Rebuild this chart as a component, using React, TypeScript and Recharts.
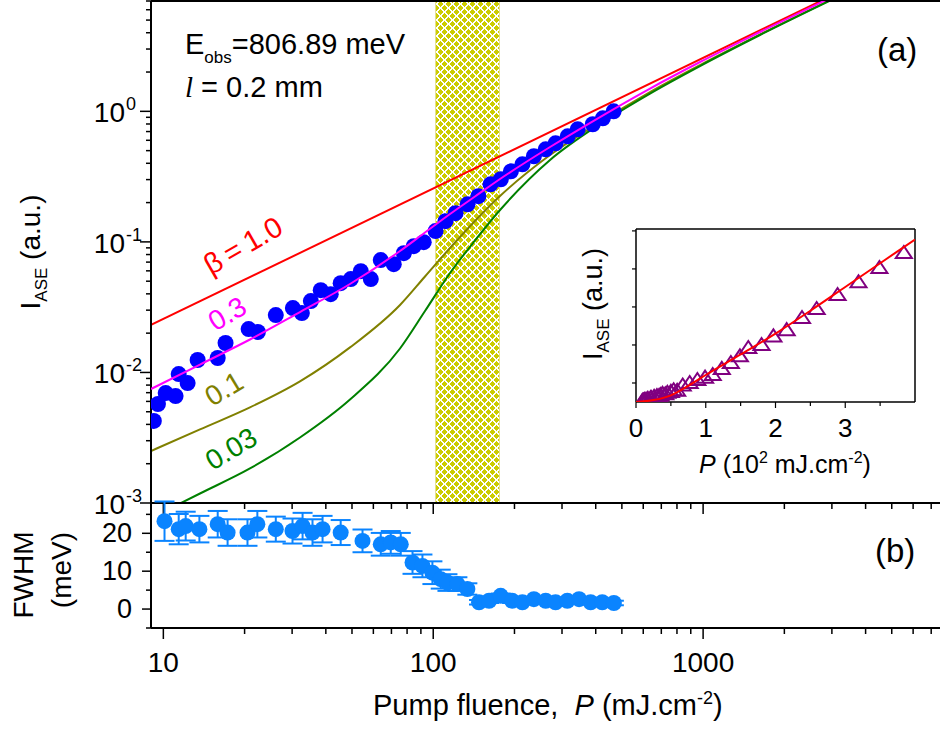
import React from "react";
import {
  ComposedChart,
  Line,
  Scatter,
  XAxis,
  YAxis,
  ReferenceArea,
  ErrorBar,
} from "recharts";

const FONT = "'Liberation Sans', Arial, Helvetica, sans-serif";

// (a) measured ASE intensity vs pump fluence
const aseFluence = [
  9.22, 9.55, 10.2, 11.1, 11.4, 12.3, 13.4, 15.9, 17.0, 20.7, 22.4, 26.1, 30.2,
  32.6, 35.2, 38.3, 41.7, 45.4, 49.5, 53.9, 58.7, 63.9, 71.4, 77.8, 84.7, 92.2,
  102, 111, 121, 134, 147, 163, 178, 194, 214, 236, 261, 284, 315, 343, 390,
  425, 466,
];
const aseIntensity = [
  0.00425, 0.00573, 0.00695, 0.00659, 0.00972, 0.00829, 0.01245, 0.0129,
  0.0168, 0.0215, 0.0204, 0.0275, 0.0311, 0.0285, 0.0352, 0.0427, 0.0398,
  0.0483, 0.0519, 0.0597, 0.0519, 0.0725, 0.0675, 0.082, 0.0927, 0.0995, 0.121,
  0.144, 0.166, 0.194, 0.224, 0.276, 0.302, 0.347, 0.393, 0.453, 0.512, 0.569,
  0.644, 0.728, 0.796, 0.884, 1.0,
];

// model curves for different beta
const curveFluence = [
  9.0, 13.67, 20.94, 32.08, 49.16, 75.32, 93.22, 115.4, 142.8, 176.8, 270.9,
  415.0, 635.7, 973.8, 1624, 3502,
];
const beta100P = [9, 3502];
const beta100I = [0.0231, 8.99];
const beta030I = [
  0.00747, 0.0115, 0.01788, 0.02903, 0.04757, 0.08514, 0.118, 0.1635, 0.2227,
  0.3031, 0.533, 0.9045, 1.495, 2.387, 4.052, 8.754,
];
const beta010I = [
  0.002502, 0.003663, 0.005398, 0.00854, 0.01555, 0.03285, 0.05429, 0.08978,
  0.1445, 0.2246, 0.4629, 0.8282, 1.406, 2.263, 3.877, 8.422,
];
const beta003I = [
  0.000768, 0.001182, 0.001838, 0.003175, 0.006205, 0.01526, 0.02955, 0.05775,
  0.1025, 0.1754, 0.4238, 0.7995, 1.369, 2.224, 3.843, 8.348,
];

// hatched threshold region (fluence)
const thresholdBand = [102, 176];

// (b) FWHM vs pump fluence
const fwhmFluence = [
  10.1, 11.4, 12.1, 13.6, 15.9, 17.3, 20.5, 22.3, 26.1, 30.1, 32.8, 35.7, 38.9,
  45.4, 54.7, 63.9, 69.6, 75.8, 83.8, 91.2, 99.3, 106.6, 112.9, 122.9, 133.8,
  147.8, 161, 177.8, 196, 214, 236, 261, 284, 314, 347, 383, 423, 467,
];
const fwhmValue = [
  23.2, 21.1, 21.9, 21.1, 22.4, 20.2, 20.2, 22.4, 21.1, 20.6, 21.9, 20.2, 21.1,
  20.2, 18.0, 17.1, 17.6, 17.1, 12.3, 11.4, 9.6, 7.9, 7.0, 6.6, 5.3, 1.8, 2.2,
  3.5, 2.2, 1.8, 2.6, 2.2, 1.8, 2.2, 2.6, 1.8, 1.8, 1.6,
];
const fwhmError = [
  5.2, 4.0, 3.8, 3.5, 3.5, 3.5, 3.5, 3.5, 3.3, 3.3, 3.5, 3.5, 3.5, 3.3, 3.0,
  3.0, 3.0, 3.0, 3.0, 3.0, 3.0, 2.5, 2.2, 1.8, 1.5, 0.6, 0.6, 0.6, 0.6, 0.6,
  0.6, 0.6, 0.6, 0.6, 0.6, 0.6, 0.6, 0.6,
];

// inset: linear plot, P in 10^2 mJ/cm2
const insetP = [
  0.09, 0.1, 0.11, 0.12, 0.13, 0.16, 0.17, 0.21, 0.22, 0.26, 0.3, 0.33, 0.35,
  0.38, 0.42, 0.45, 0.5, 0.54, 0.59, 0.67, 0.77, 0.88, 0.99, 1.1, 1.23, 1.36,
  1.49, 1.61, 1.8, 1.97, 2.16, 2.38, 2.59, 2.89, 3.19, 3.49, 3.84,
];
const insetI = [
  0.005, 0.007, 0.008, 0.01, 0.012, 0.014, 0.017, 0.021, 0.021, 0.027, 0.031,
  0.031, 0.036, 0.043, 0.041, 0.049, 0.053, 0.062, 0.059, 0.087, 0.1, 0.116,
  0.128, 0.142, 0.174, 0.205, 0.24, 0.284, 0.3, 0.345, 0.378, 0.442, 0.489,
  0.563, 0.63, 0.705, 0.784,
];
const insetFitP = [0, 0.25, 0.5, 0.75, 1.0, 1.5, 2.0, 2.5, 3.0, 3.5, 4.0];
const insetFitI = [0, 0.01, 0.035, 0.085, 0.142, 0.25, 0.36, 0.48, 0.605, 0.73, 0.855];

// ticks
const xTicks = [
  10, 20, 30, 40, 50, 60, 70, 80, 90, 100, 200, 300, 400, 500, 600, 700, 800,
  900, 1000, 2000, 3000, 4000, 5000, 6000, 7000, 8000, 9000, 10000,
];
const xTickLabels = [10, 100, 1000];
const yTicksIntensity = [
  0.001, 0.002, 0.003, 0.004, 0.005, 0.006, 0.007, 0.008, 0.009, 0.01, 0.02,
  0.03, 0.04, 0.05, 0.06, 0.07, 0.08, 0.09, 0.1, 0.2, 0.3, 0.4, 0.5, 0.6, 0.7,
  0.8, 0.9, 1, 2, 3, 4, 5, 6, 7,
];
const fwhmTicks = [-5, 0, 5, 10, 15, 20, 25];
const fwhmTickLabels = [0, 10, 20];
const insetXTicks = [0, 0.5, 1, 1.5, 2, 2.5, 3, 3.5];
const insetXTickLabels = [0, 1, 2, 3];
const insetYTicks = [0.1, 0.3, 0.5, 0.7, 0.9];

const zip = (xs: number[], ys: number[]) => xs.map((P, i) => ({ P, I: ys[i] }));

const asePoints = zip(aseFluence, aseIntensity);
const beta100 = zip(beta100P, beta100I);
const beta030 = zip(curveFluence, beta030I);
const beta010 = zip(curveFluence, beta010I);
const beta003 = zip(curveFluence, beta003I);
const fwhmPoints = fwhmFluence.map((P, i) => ({ P, F: fwhmValue[i], err: fwhmError[i] }));
const insetPoints = zip(insetP, insetI);
const insetFit = zip(insetFitP, insetFitI);

const isDecade = (v: number) =>
  Math.abs(Math.log10(v) - Math.round(Math.log10(v))) < 1e-6;

// 8px cross-hatch tile, two crossing 2px diagonals
const HATCH = 8;
const hatchRows = [0, 1, 2, 3, 4, 5, 6, 7];

// ticks under the shared line, pointing down into panel (b)
const XTickDown = (props: any) => {
  const { x, y, payload } = props;
  const major = isDecade(payload.value);
  return (
    <line x1={x} x2={x} y1={y} y2={y + (major ? 11 : 6)} stroke="#000" strokeWidth={1.5} />
  );
};

// bottom axis of panel (b) with labels
const XTickLabelled = (props: any) => {
  const { x, y, payload } = props;
  const v = payload.value;
  const major = isDecade(v);
  return (
    <g>
      <line x1={x} x2={x} y1={y} y2={y + (major ? 11 : 6)} stroke="#000" strokeWidth={1.5} />
      {xTickLabels.includes(v) && (
        <text x={x} y={y + 44} textAnchor="middle" fontSize={28} fontFamily={FONT} fill="#000">
          {v}
        </text>
      )}
    </g>
  );
};

const YTickLog = (props: any) => {
  const { x, y, payload } = props;
  const v = payload.value;
  const major = isDecade(v);
  const exp = Math.round(Math.log10(v));
  return (
    <g>
      <line x1={x} x2={x - (major ? 11 : 5)} y1={y} y2={y} stroke="#000" strokeWidth={1.5} />
      {major && (
        <g fontFamily={FONT} fill="#000">
          <text x={x - 26} y={y + 11} textAnchor="end" fontSize={28}>
            10
          </text>
          <text x={x - 25} y={y - 1} textAnchor="start" fontSize={18}>
            {exp === 0 ? "0" : `-${-exp}`}
          </text>
        </g>
      )}
    </g>
  );
};

const YTickFwhm = (props: any) => {
  const { x, y, payload } = props;
  const v = payload.value;
  const major = fwhmTickLabels.includes(v);
  return (
    <g>
      <line x1={x} x2={x - (major ? 9 : 5)} y1={y} y2={y} stroke="#000" strokeWidth={1.5} />
      {major && (
        <text x={x - 19} y={y + 9} textAnchor="end" fontSize={27} fontFamily={FONT} fill="#000">
          {v}
        </text>
      )}
    </g>
  );
};

const InsetXTick = (props: any) => {
  const { x, y, payload } = props;
  const v = payload.value;
  const major = insetXTickLabels.includes(v);
  return (
    <g>
      <line x1={x} x2={x} y1={y} y2={y + (major ? 6 : 4)} stroke="#000" strokeWidth={1.2} />
      {major && (
        <text x={x} y={y + 35} textAnchor="middle" fontSize={26} fontFamily={FONT} fill="#000">
          {v}
        </text>
      )}
    </g>
  );
};

const InsetYTick = (props: any) => {
  const { x, y } = props;
  return <line x1={x} x2={x - 4} y1={y} y2={y} stroke="#000" strokeWidth={1.2} />;
};

const BlueDot = (props: any) => <circle cx={props.cx} cy={props.cy} r={8} fill="#0000ff" />;
const AzureDot = (props: any) => <circle cx={props.cx} cy={props.cy} r={8} fill="#0a84ff" />;
const Triangle = (props: any) => {
  const { cx, cy } = props;
  return (
    <polygon
      points={`${cx},${cy - 7} ${cx + 8},${cy + 5} ${cx - 8},${cy + 5}`}
      fill="none"
      stroke="#800080"
      strokeWidth={2}
    />
  );
};

const axisLine = { stroke: "#000", strokeWidth: 2 };
const insetAxisLine = { stroke: "#000", strokeWidth: 1.5 };

export default function App() {
  return (
    <div
      style={{
        position: "absolute",
        left: 0,
        top: 0,
        width: 940,
        height: 729,
        overflow: "hidden",
        background: "#fff",
        fontFamily: FONT,
      }}
    >
      <svg width={0} height={0} style={{ position: "absolute" }}>
        <defs>
          <pattern id="hatch" patternUnits="userSpaceOnUse" width={HATCH} height={HATCH}>
            <rect width={HATCH} height={HATCH} fill="#cccc00" />
            <g fill="#ffffff" shapeRendering="crispEdges">
              {hatchRows.map((r) => (
                <g key={r}>
                  <rect x={r} y={r} width={1} height={1} />
                  <rect x={(r + 1) % HATCH} y={r} width={1} height={1} />
                  <rect x={(HATCH - 1 - r) % HATCH} y={r} width={1} height={1} />
                  <rect x={(HATCH - r) % HATCH} y={r} width={1} height={1} />
                </g>
              ))}
            </g>
          </pattern>
        </defs>
      </svg>

      {/* panel (a) */}
      <div style={{ position: "absolute", left: 0, top: 0 }}>
        <ComposedChart width={980} height={520} margin={{ top: 0, right: 7, bottom: 16, left: 0 }}>
          <XAxis
            xAxisId="top"
            orientation="top"
            type="number"
            dataKey="P"
            scale="log"
            domain={[9, 10000]}
            allowDataOverflow
            height={1}
            tick={false}
            tickLine={false}
            axisLine={axisLine}
          />
          <XAxis
            xAxisId="bottom"
            orientation="bottom"
            type="number"
            dataKey="P"
            scale="log"
            domain={[9, 10000]}
            allowDataOverflow
            ticks={xTicks}
            interval={0}
            height={1}
            tickSize={0}
            tickMargin={0}
            tickLine={false}
            tick={XTickDown}
            axisLine={axisLine}
          />
          <YAxis
            type="number"
            dataKey="I"
            scale="log"
            domain={[0.001, 7]}
            allowDataOverflow
            ticks={yTicksIntensity}
            interval={0}
            width={151}
            tickSize={0}
            tickMargin={0}
            tickLine={false}
            tick={YTickLog}
            axisLine={axisLine}
            stroke="#000"
          />
          <ReferenceArea
            xAxisId="bottom"
            x1={thresholdBand[0]}
            x2={thresholdBand[1]}
            fill="url(#hatch)"
            fillOpacity={1}
            stroke="#e4e08c"
            strokeWidth={1}
          />
          <Line xAxisId="top" data={beta100} dataKey="I" stroke="#ff0000" strokeWidth={2} dot={false} isAnimationActive={false} />
          <Line xAxisId="top" data={beta010} dataKey="I" type="monotone" stroke="#808000" strokeWidth={2} dot={false} isAnimationActive={false} />
          <Line xAxisId="top" data={beta003} dataKey="I" type="monotone" stroke="#008000" strokeWidth={2} dot={false} isAnimationActive={false} />
          <Scatter xAxisId="bottom" data={asePoints} dataKey="I" fill="#0000ff" shape={BlueDot} isAnimationActive={false} />
          <Line
            xAxisId="top"
            data={beta030}
            dataKey="I"
            type="monotone"
            stroke="#ff00ff"
            strokeWidth={2}
            dot={false}
            isAnimationActive={false}
            {...({ zIndex: 700 } as any)}
          />
        </ComposedChart>
      </div>

      {/* panel (b) */}
      <div style={{ position: "absolute", left: 0, top: 0 }}>
        <ComposedChart width={980} height={729} margin={{ top: 503, right: 7, bottom: 0, left: 0 }}>
          <XAxis
            orientation="bottom"
            type="number"
            dataKey="P"
            scale="log"
            domain={[9, 10000]}
            allowDataOverflow
            ticks={xTicks}
            interval={0}
            height={101}
            tickSize={0}
            tickMargin={0}
            tickLine={false}
            tick={XTickLabelled}
            axisLine={axisLine}
          />
          <YAxis
            type="number"
            dataKey="F"
            domain={[-5, 28]}
            allowDataOverflow
            ticks={fwhmTicks}
            interval={0}
            width={151}
            tickSize={0}
            tickMargin={0}
            tickLine={false}
            tick={YTickFwhm}
            axisLine={axisLine}
            stroke="#000"
          />
          <Scatter data={fwhmPoints} dataKey="F" fill="#0a84ff" shape={AzureDot} isAnimationActive={false}>
            <ErrorBar dataKey="err" direction="y" width={10} stroke="#0a84ff" strokeWidth={2} />
          </Scatter>
        </ComposedChart>
      </div>

      {/* inset */}
      <div style={{ position: "absolute", left: 560, top: 200 }}>
        <ComposedChart width={380} height={290} margin={{ top: 28, right: 24, bottom: 0, left: 0 }}>
          <XAxis
            xAxisId="b"
            orientation="bottom"
            type="number"
            dataKey="P"
            domain={[0, 4]}
            allowDataOverflow
            ticks={insetXTicks}
            interval={0}
            height={88}
            tickSize={0}
            tickMargin={0}
            tickLine={false}
            tick={InsetXTick}
            axisLine={insetAxisLine}
          />
          <XAxis
            xAxisId="t"
            orientation="top"
            type="number"
            dataKey="P"
            domain={[0, 4]}
            allowDataOverflow
            height={1}
            tick={false}
            tickLine={false}
            axisLine={insetAxisLine}
          />
          <YAxis
            yAxisId="l"
            type="number"
            dataKey="I"
            domain={[0, 0.91]}
            allowDataOverflow
            ticks={insetYTicks}
            interval={0}
            width={76}
            tickSize={0}
            tickMargin={0}
            tickLine={false}
            tick={InsetYTick}
            axisLine={insetAxisLine}
          />
          <YAxis
            yAxisId="r"
            orientation="right"
            type="number"
            dataKey="I"
            domain={[0, 0.91]}
            allowDataOverflow
            width={1}
            tick={false}
            tickLine={false}
            axisLine={insetAxisLine}
          />
          <Scatter xAxisId="b" yAxisId="l" data={insetPoints} dataKey="I" shape={Triangle} isAnimationActive={false} />
          <Line
            xAxisId="t"
            yAxisId="r"
            data={insetFit}
            dataKey="I"
            type="monotone"
            stroke="#ff0000"
            strokeWidth={2}
            dot={false}
            isAnimationActive={false}
            {...({ zIndex: 700 } as any)}
          />
        </ComposedChart>
      </div>

      {/* text annotations */}
      <svg
        width={940}
        height={729}
        style={{ position: "absolute", left: 0, top: 0, pointerEvents: "none" }}
        fontFamily={FONT}
      >
        <text x={40} y={252} transform="rotate(-90 40 252)" textAnchor="middle" fontSize={28}>
          I<tspan fontSize={17} dy={7}>ASE</tspan>
          <tspan dy={-7}>{"\u00a0(a.u.)"}</tspan>
        </text>
        <text x={33} y={575} transform="rotate(-90 33 575)" textAnchor="middle" fontSize={28}>
          FWHM
        </text>
        <text x={71} y={570} transform="rotate(-90 71 570)" textAnchor="middle" fontSize={28}>
          (meV)
        </text>
        <text x={373} y={715} fontSize={29}>
          {"Pump fluence,\u00a0\u00a0"}
          <tspan fontStyle="italic">P</tspan>
          {"\u00a0(mJ.cm"}
          <tspan fontSize={18} dy={-11}>-2</tspan>
          <tspan dy={11}>)</tspan>
        </text>

        <text x={185} y={54} fontSize={29}>
          E<tspan fontSize={17} dy={9}>obs</tspan>
          <tspan dy={-9}>=806.89 meV</tspan>
        </text>
        <text x={185} y={97} fontSize={29}>
          <tspan fontFamily="'Liberation Serif', serif" fontStyle="italic">l</tspan>
          {"\u00a0= 0.2 mm"}
        </text>
        <text x={877} y={61} fontSize={33}>(a)</text>
        <text x={875} y={562} fontSize={33}>(b)</text>

        <text transform="translate(248,254) rotate(-30)" textAnchor="middle" fontSize={29} fill="#ff0000">
          {"\u03b2\u2009=\u20091.0"}
        </text>
        <text transform="translate(232,322) rotate(-30)" textAnchor="middle" fontSize={28} fill="#ff00ff">
          0.3
        </text>
        <text transform="translate(229,397) rotate(-31)" textAnchor="middle" fontSize={28} fill="#808000">
          0.1
        </text>
        <text transform="translate(236,457) rotate(-31)" textAnchor="middle" fontSize={28} fill="#008000">
          0.03
        </text>

        <text x={785} y={473} textAnchor="middle" fontSize={25}>
          <tspan fontStyle="italic">P</tspan>
          {"\u00a0(10"}
          <tspan fontSize={16} dy={-10}>2</tspan>
          <tspan dy={10}>{"\u00a0mJ.cm"}</tspan>
          <tspan fontSize={16} dy={-10}>-2</tspan>
          <tspan dy={10}>)</tspan>
        </text>
        <text x={602} y={304} transform="rotate(-90 602 304)" textAnchor="middle" fontSize={27}>
          I<tspan fontSize={17} dy={7}>ASE</tspan>
          <tspan dy={-7}>{"\u00a0(a.u.)"}</tspan>
        </text>
      </svg>
    </div>
  );
}
